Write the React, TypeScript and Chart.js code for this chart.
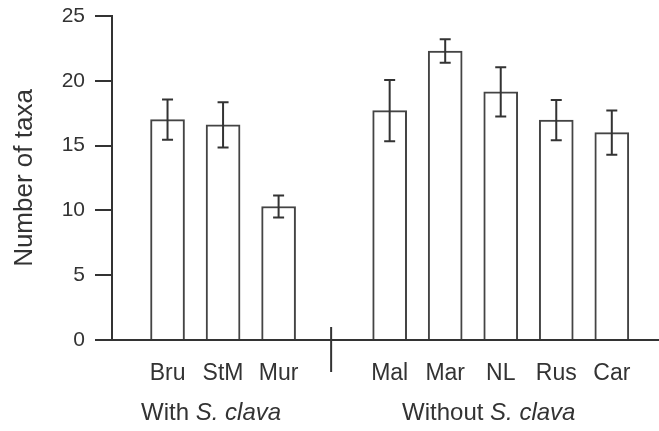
import { useEffect, useRef } from 'react';
import { Chart, registerables } from 'chart.js';

Chart.register(...registerables);

// ---- data ----
const categories = ['Bru', 'StM', 'Mur', '', 'Mal', 'Mar', 'NL', 'Rus', 'Car'];
const means: (number | null)[] = [17.0, 16.6, 10.3, null, 17.7, 22.3, 19.15, 16.97, 16.0];
const errors: (number | null)[] = [1.55, 1.75, 0.85, null, 2.37, 0.9, 1.9, 1.55, 1.7];
const yTicks = [0, 5, 10, 15, 20, 25];
const groupPlain = ['With ', 'Without '];
const groupItalic = ['S. clava', 'S. clava'];
const groupFrom = ['Bru', 'Mal'];
const groupTo = ['Mur', 'Car'];
const yTitle = 'Number of taxa';

const FONT = "'Liberation Sans', Arial, sans-serif";
const INK = '#333';

const posOf = (c: string) => categories.indexOf(c) + 1;

export default function App() {
  const ref = useRef<HTMLCanvasElement | null>(null);

  useEffect(() => {
    if (!ref.current) return;
    const points = categories
      .map((c, i) => ({ x: i + 1, y: means[i], e: errors[i] }))
      .filter((d) => d.y !== null);

    const errorBars = {
      id: 'errorBars',
      afterDatasetsDraw(chart: any) {
        const { ctx } = chart;
        const xs = chart.scales.x;
        const ys = chart.scales.y;
        ctx.save();
        ctx.strokeStyle = INK;
        ctx.lineWidth = 2;
        points.forEach((p: any) => {
          const x = xs.getPixelForValue(p.x);
          const y1 = ys.getPixelForValue(p.y + p.e);
          const y2 = ys.getPixelForValue(p.y - p.e);
          const cap = 5.5;
          ctx.beginPath();
          ctx.moveTo(x, y1);
          ctx.lineTo(x, y2);
          ctx.moveTo(x - cap, y1);
          ctx.lineTo(x + cap, y1);
          ctx.moveTo(x - cap, y2);
          ctx.lineTo(x + cap, y2);
          ctx.stroke();
        });
        ctx.restore();
      },
    };

    const decorations = {
      id: 'decorations',
      afterDraw(chart: any) {
        const { ctx, chartArea } = chart;
        const xs = chart.scales.x;
        ctx.save();
        // axis break mark at the blank category
        const bx = xs.getPixelForValue(categories.indexOf('') + 1) - 3;
        ctx.strokeStyle = INK;
        ctx.lineWidth = 2;
        ctx.beginPath();
        ctx.moveTo(bx, chartArea.bottom - 13);
        ctx.lineTo(bx, chartArea.bottom + 32);
        ctx.stroke();
        // group labels
        ctx.fillStyle = INK;
        ctx.textBaseline = 'middle';
        ctx.textAlign = 'left';
        const y = chartArea.bottom + 73;
        groupPlain.forEach((plain, i) => {
          const center =
            (xs.getPixelForValue(posOf(groupFrom[i])) + xs.getPixelForValue(posOf(groupTo[i]))) / 2 - 12;
          ctx.font = `24px ${FONT}`;
          const w1 = ctx.measureText(plain).width;
          ctx.font = `italic 24px ${FONT}`;
          const w2 = ctx.measureText(groupItalic[i]).width;
          const start = center - (w1 + w2) / 2;
          ctx.font = `24px ${FONT}`;
          ctx.fillText(plain, start, y);
          ctx.font = `italic 24px ${FONT}`;
          ctx.fillText(groupItalic[i], start + w1, y);
        });
        ctx.restore();
      },
    };

    const chart = new Chart(ref.current, {
      type: 'bar',
      data: {
        datasets: [
          {
            data: points.map((p) => ({ x: p.x, y: p.y as number })),
            backgroundColor: '#ffffff',
            borderColor: '#444',
            borderWidth: 2,
            borderSkipped: 'bottom',
            barThickness: 34,
          },
        ],
      },
      options: {
        responsive: false,
        animation: false,
        layout: { padding: { top: 16, right: 0, left: 0, bottom: 0 } },
        plugins: { legend: { display: false }, tooltip: { enabled: false } },
        scales: {
          x: {
            type: 'linear',
            offset: false,
            min: 0,
            max: 9.85,
            afterBuildTicks: (scale: any) => {
              scale.ticks = categories
                .map((c, i) => ({ value: i + 1, label: c }))
                .filter((t) => t.label !== '')
                .map((t) => ({ value: t.value }));
            },
            afterFit: (scale: any) => {
              scale.height = 91;
              scale.paddingLeft = 0;
              scale.paddingRight = 0;
            },
            ticks: {
              autoSkip: false,
              maxRotation: 0,
              padding: 20,
              color: INK,
              font: { family: FONT, size: 23 },
              callback: (v: any) => categories[Number(v) - 1] ?? '',
            },
            grid: { display: false, drawTicks: false },
            border: { display: true, color: INK, width: 2 },
          },
          y: {
            min: 0,
            max: 25,
            afterBuildTicks: (scale: any) => {
              scale.ticks = yTicks.map((v) => ({ value: v }));
            },
            afterFit: (scale: any) => {
              scale.width = 112;
              scale.paddingTop = 0;
              scale.paddingBottom = 0;
            },
            ticks: {
              padding: 10,
              color: INK,
              font: { family: FONT, size: 21 },
            },
            grid: {
              drawOnChartArea: false,
              drawTicks: true,
              tickLength: 17,
              color: INK,
              lineWidth: 2,
            },
            border: { display: true, color: INK, width: 2 },
            title: {
              display: true,
              text: yTitle,
              color: INK,
              font: { family: FONT, size: 26 },
              padding: { top: 9, bottom: 0 },
            },
          },
        },
      },
      plugins: [errorBars, decorations],
    });
    return () => chart.destroy();
  }, []);

  return (
    <div style={{ position: 'fixed', left: 0, top: 0, width: 659, height: 431, background: '#fff' }}>
      <canvas ref={ref} width={659} height={431} style={{ width: 659, height: 431, display: 'block' }} />
    </div>
  );
}
